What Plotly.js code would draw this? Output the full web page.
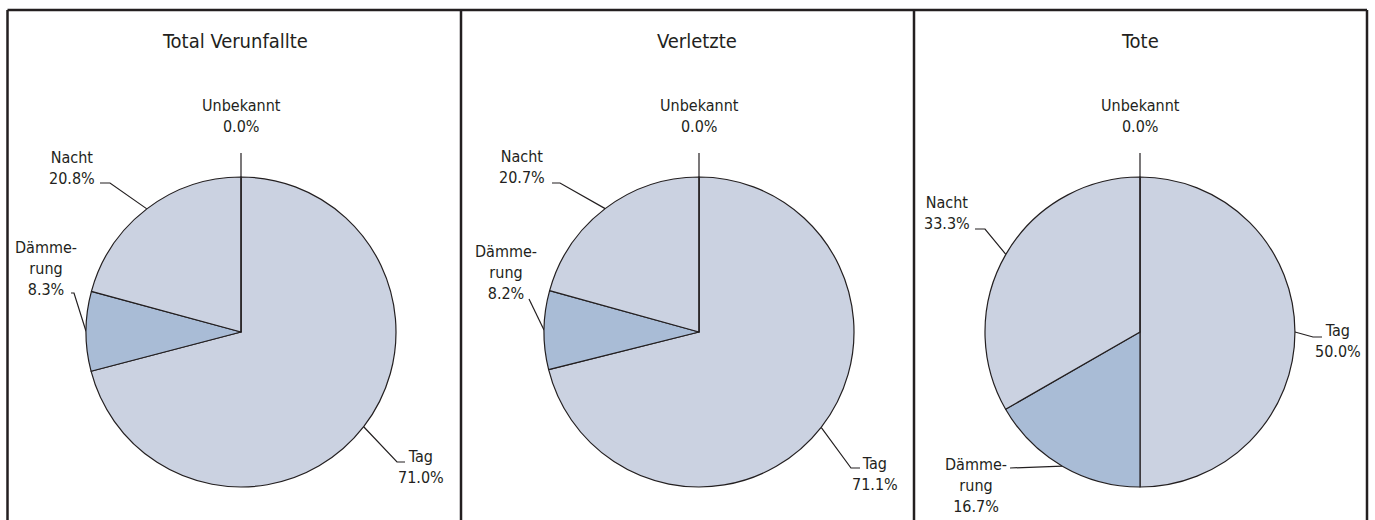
<!DOCTYPE html>
<html>
<head>
<meta charset="utf-8">
<script src="https://cdn.plot.ly/plotly-3.0.1.min.js"></script>
<style>html,body{margin:0;padding:0;background:#fff;}#chart{width:1375px;height:520px;}</style>
</head>
<body>
<div id="chart"></div>
<script>
// ---- data ----
const categories = ['Tag', 'Dämmerung', 'Nacht', 'Unbekannt'];
const categoryLabels = ['Tag', 'Dämme-<br>rung', 'Nacht', 'Unbekannt'];
const panelTitles = ['Total Verunfallte', 'Verletzte', 'Tote'];
const totalValues = [71.0, 8.3, 20.8, 0.0];
const injuredValues = [71.1, 8.2, 20.7, 0.0];
const deadValues = [50.0, 16.7, 33.3, 0.0];
const panelValues = [totalValues, injuredValues, deadValues];

// ---- layout / style ----
const W = 1375, H = 520;
const FONT = 'Liberation Sans Narrow, DejaVu Sans Condensed, Arial Narrow, sans-serif';
const sliceColors = ['#cbd2e1', '#a9bcd6', '#cbd2e1', '#cbd2e1'];
const ink = '#231f20';
const R = 155;
const panels = [
  {cx: 241, cy: 332, titleX: 235},
  {cx: 699, cy: 332, titleX: 697},
  {cx: 1140, cy: 332, titleX: 1140}
];
const frameX = [7.5, 461, 914, 1367];
const frameTop = 10;
// label placement (pixel offsets from pie centre, y downward): elbow, stub, text centre
const labelPlacement = [
  [ {e:[156,130], s:8,  t:[180,135]}, {e:[-167,-39], s:-3, t:[-195,-64]}, {e:[-131,-149], s:-10, t:[-169,-164]}, {e:[0,-179], s:0, t:[0,-216]} ],
  [ {e:[152,136], s:9,  t:[176,142]}, {e:[-170,-33], s:0,  t:[-193,-60]}, {e:[-139,-149], s:-8,  t:[-177,-165]}, {e:[0,-179], s:0, t:[0,-216]} ],
  [ {e:[173,5],   s:9,  t:[198,9]},   {e:[-130,136], s:0,  t:[-164,153]}, {e:[-155,-103], s:-10, t:[-193,-119]}, {e:[0,-179], s:0, t:[0,-216]} ]
];

const traces = [];
const annotations = [];
const layout = {
  width: W, height: H,
  margin: {l: 0, r: 0, t: 0, b: 0},
  paper_bgcolor: '#ffffff', plot_bgcolor: 'rgba(0,0,0,0)',
  showlegend: false,
  font: {family: FONT, size: 16, color: ink},
  shapes: [],
  annotations: annotations
};

panels.forEach((p, k) => {
  const vals = panelValues[k];
  const sum = vals.reduce((a, b) => a + b, 0);
  const ax = k === 0 ? '' : String(k + 1);
  // pie
  traces.push({
    type: 'pie',
    labels: categories,
    values: vals,
    sort: false,
    direction: 'clockwise',
    rotation: 0,
    textinfo: 'none',
    hoverinfo: 'skip',
    marker: {colors: sliceColors, line: {color: ink, width: 1.2}},
    domain: {
      x: [(p.cx - R) / W, (p.cx + R) / W],
      y: [(H - p.cy - R) / H, (H - p.cy + R) / H]
    }
  });
  // overlay axes in pie-radius units
  layout['xaxis' + ax] = {
    domain: [0, 1], range: [(0 - p.cx) / R, (W - p.cx) / R],
    visible: false, fixedrange: true,
    overlaying: k === 0 ? undefined : 'x'
  };
  layout['yaxis' + ax] = {
    domain: [0, 1], range: [(p.cy - H) / R, p.cy / R],
    visible: false, fixedrange: true,
    overlaying: k === 0 ? undefined : 'y'
  };
  // leader lines and labels
  let cum = 0;
  vals.forEach((v, i) => {
    const frac = v / sum;
    const mid = (cum + frac / 2) * 2 * Math.PI;
    cum += frac;
    const lp = labelPlacement[k][i];
    const px = Math.sin(mid), py = Math.cos(mid);
    const ex = lp.e[0] / R, ey = -lp.e[1] / R;
    const sx = (lp.e[0] + lp.s) / R;
    traces.push({
      type: 'scatter', mode: 'lines',
      x: [px, ex, sx], y: [py, ey, ey],
      xaxis: 'x' + ax, yaxis: 'y' + ax,
      line: {color: ink, width: 1.2},
      hoverinfo: 'skip', cliponaxis: false
    });
    annotations.push({
      xref: 'x' + ax, yref: 'y' + ax,
      x: lp.t[0] / R, y: -lp.t[1] / R,
      xanchor: 'center', yanchor: 'middle', align: 'center',
      showarrow: false,
      text: categoryLabels[i] + '<br>' + v.toFixed(1) + '%',
      font: {family: FONT, size: 16, color: ink}
    });
  });
  // panel title
  annotations.push({
    xref: 'paper', yref: 'paper',
    x: p.titleX / W, y: 1 - 41 / H,
    xanchor: 'center', yanchor: 'middle', showarrow: false,
    text: panelTitles[k],
    font: {family: FONT, size: 20, color: ink}
  });
});

// frame
layout.shapes.push({type: 'line', xref: 'paper', yref: 'paper',
  x0: frameX[0] / W, x1: frameX[3] / W, y0: 1 - frameTop / H, y1: 1 - frameTop / H,
  line: {color: ink, width: 2.5}});
frameX.forEach(fx => {
  layout.shapes.push({type: 'line', xref: 'paper', yref: 'paper',
    x0: fx / W, x1: fx / W, y0: 1 - frameTop / H, y1: 0,
    line: {color: ink, width: 2.5}});
});

Plotly.newPlot('chart', traces, layout, {staticPlot: true, displayModeBar: false});
</script>
</body>
</html>
